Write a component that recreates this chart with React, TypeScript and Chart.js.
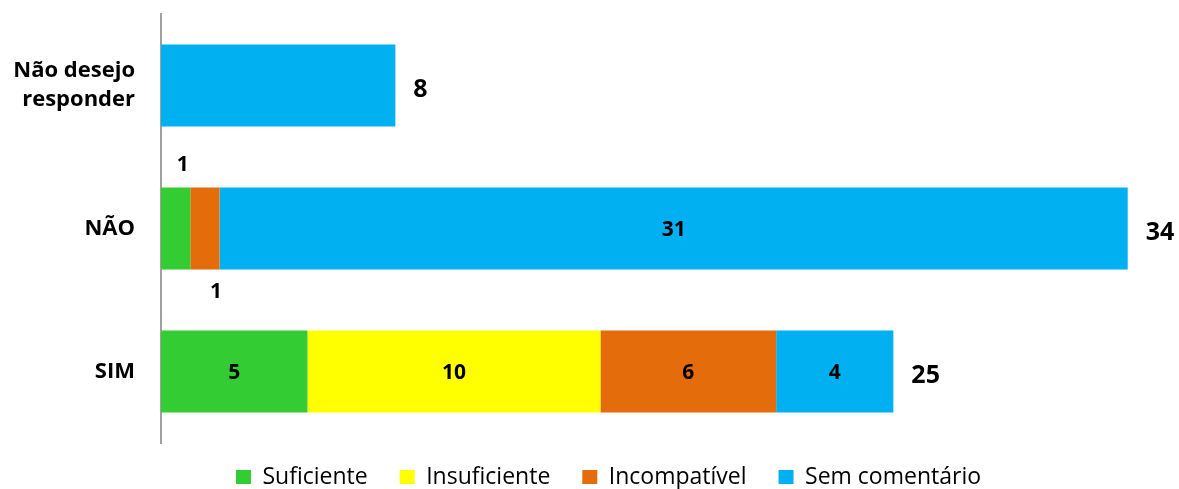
import React, { useEffect, useRef } from "react";
import { Chart, registerables } from "chart.js";

Chart.register(...registerables);

const categories: (string | string[])[] = [["Não desejo", "responder"], "NÃO", "SIM"];
const seriesNames = ["Suficiente", "Insuficiente", "Incompatível", "Sem comentário"];
const seriesColors = ["#33CC33", "#FFFF00", "#E46C0A", "#00B0F0"];
const suficiente = [null, 1, 5];
const insuficiente = [null, null, 10];
const incompativel = [null, 1, 6];
const semComentario = [8, 31, 4];
const totals = [8, 34, 25];
const xMax = 34;

const FONT = "'Open Sans', 'DejaVu Sans', sans-serif";
const LEGEND_FONT = 23;
const LEGEND_PAD = 32;

const labelsPlugin = {
  id: "segmentLabels",
  afterLayout(chart: any) {
    const lg = chart.legend;
    if (lg) {
      lg.top = 477 - LEGEND_PAD - LEGEND_FONT / 2;
      lg.bottom = chart.height;
      lg.left = lg.left + 60;
      lg.right = lg.right + 0;
      lg.width = lg.right - lg.left;
      lg.height = lg.bottom - lg.top;
    }
  },
  afterDatasetsDraw(chart: any) {
    const ctx = chart.ctx;
    ctx.save();
    ctx.fillStyle = "#000";
    ctx.textBaseline = "middle";
    const n = chart.data.labels.length;
    for (let j = 0; j < n; j++) {
      let smallCount = 0;
      let end = -Infinity;
      let cy = 0;
      const segs = chart.data.datasets.filter((ds: any) => ds.data[j] !== null && ds.data[j] !== undefined).length;
      chart.data.datasets.forEach((ds: any, i: number) => {
        const meta = chart.getDatasetMeta(i);
        const el: any = meta.data[j];
        const v = ds.data[j];
        if (!el || v === null || v === undefined) return;
        const left = Math.min(el.x, el.base);
        const right = Math.max(el.x, el.base);
        cy = el.y;
        end = Math.max(end, right);
        if (segs < 2) return;
        const w = right - left;
        const cx = (left + right) / 2;
        ctx.font = `bold 21px ${FONT}`;
        ctx.textAlign = "center";
        if (w < 40) {
          const h = el.height;
          if (smallCount % 2 === 0) {
            ctx.fillText(String(v), cx + 7, el.y - h / 2 - 22);
          } else {
            ctx.fillText(String(v), cx + 11, el.y + h / 2 + 22);
          }
          smallCount++;
        } else {
          ctx.fillText(String(v), cx, el.y + 2);
        }
      });
      if (end > -Infinity) {
        ctx.font = `bold 25px ${FONT}`;
        ctx.textAlign = "left";
        ctx.fillText(String(totals[j]), end + 18, cy + 4);
      }
    }
    ctx.restore();
  },
};

export default function App() {
  const ref = useRef<HTMLCanvasElement | null>(null);
  useEffect(() => {
    document.body.style.margin = "0";
    const data = [suficiente, insuficiente, incompativel, semComentario];
    const chart = new Chart(ref.current as HTMLCanvasElement, {
      type: "bar",
      data: {
        labels: categories,
        datasets: data.map((d, i) => ({
          label: seriesNames[i],
          data: d,
          backgroundColor: seriesColors[i],
          borderWidth: 0,
          categoryPercentage: 0.575,
          barPercentage: 1,
        })),
      },
      options: {
        indexAxis: "y",
        animation: false,
        responsive: false,
        layout: { padding: { top: 14, right: 22, left: 0, bottom: 0 } },
        scales: {
          x: { stacked: true, min: 0, max: xMax, display: false },
          y: {
            stacked: true,
            grid: { display: false, drawTicks: false },
            border: { display: true, color: "#A0A0A0", width: 2 },
            ticks: {
              padding: 26,
              color: "#000",
              font: { family: FONT, size: 22, weight: "bold", lineHeight: 1.3 },
            },
            afterFit: (scale: any) => {
              scale.width = 161;
              scale.paddingTop = 0;
              scale.paddingBottom = 0;
            },
          },
        },
        plugins: {
          legend: {
            position: "bottom",
            maxHeight: 46,
            labels: {
              boxWidth: 15,
              boxHeight: 14,
              padding: LEGEND_PAD,
              color: "#000",
              font: { family: FONT, size: LEGEND_FONT },
            },
          },
          tooltip: { enabled: false },
        },
      },
      plugins: [labelsPlugin],
    } as any);
    return () => chart.destroy();
  }, []);
  return (
    <div style={{ position: "absolute", left: 0, top: 0, width: 1179, height: 489 }}>
      <canvas ref={ref} width={1179} height={489} />
    </div>
  );
}
